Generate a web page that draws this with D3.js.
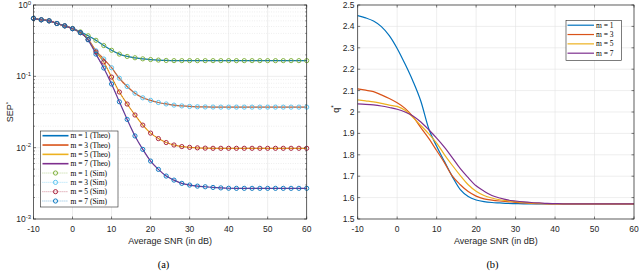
<!DOCTYPE html>
<html>
<head>
<meta charset="utf-8">
<script src="https://cdn.jsdelivr.net/npm/d3@7"></script>
<style>
  html, body { margin: 0; padding: 0; background: #fff; }
  svg { display: block; }
  .tick-label { font-family: "Liberation Sans", Arial, sans-serif; font-size: 8.5px; fill: #262626; }
  .axis-title { font-family: "Liberation Sans", Arial, sans-serif; font-size: 9px; fill: #262626; }
  .legend-text { font-family: "Liberation Serif", "DejaVu Serif", serif; font-size: 7.5px; fill: #000; }
  .caption { font-family: "Liberation Serif", "DejaVu Serif", serif; font-size: 10.5px; fill: #000; }
</style>
</head>
<body>
<svg id="chart" width="640" height="271"></svg>
<script>
// SNR grid shared by both panels (dB)
const snr = d3.range(-10, 61, 2);

// Panel (a): SEP* vs SNR, theory curves (sim markers coincide with them)
const sepM1 = [0.65, 0.62, 0.60, 0.55, 0.51, 0.47, 0.42, 0.37, 0.32, 0.27, 0.232, 0.205, 0.19, 0.182, 0.176, 0.172, 0.169, 0.167,
  0.166, 0.166, 0.166, 0.166, 0.166, 0.166, 0.166, 0.166, 0.166, 0.166, 0.166, 0.166, 0.166, 0.166, 0.166, 0.166, 0.166, 0.166];
const sepM3 = [0.65, 0.62, 0.60, 0.55, 0.51, 0.465, 0.41, 0.33, 0.228, 0.175, 0.132, 0.094, 0.072, 0.058, 0.050, 0.046, 0.043, 0.041,
  0.0395, 0.0385, 0.0378, 0.0374, 0.0372, 0.0371, 0.037, 0.037, 0.037, 0.037, 0.037, 0.037, 0.037, 0.037, 0.037, 0.037, 0.037, 0.037];
const sepM5 = [0.65, 0.62, 0.60, 0.55, 0.51, 0.465, 0.41, 0.328, 0.22, 0.159, 0.0977, 0.0603, 0.0409, 0.0287, 0.0207, 0.016, 0.0134, 0.0118,
  0.0109, 0.01036, 0.0101, 0.00994, 0.00985, 0.0098, 0.0098, 0.0098, 0.0098, 0.0098, 0.0098, 0.0098, 0.0098, 0.0098, 0.0098, 0.0098, 0.0098, 0.0098];
const sepM7 = [0.65, 0.62, 0.60, 0.55, 0.51, 0.465, 0.41, 0.325, 0.205, 0.131, 0.078, 0.044, 0.0249, 0.0146, 0.00946, 0.00649, 0.00496, 0.0040,
  0.00351, 0.00316, 0.00299, 0.00289, 0.00283, 0.00277, 0.00273, 0.0027, 0.00269, 0.00269, 0.00269, 0.00269, 0.00269, 0.00269, 0.00269, 0.00269, 0.00269, 0.00269];

// Panel (b): q* vs SNR
const qM1 = [2.45, 2.44, 2.425, 2.399, 2.357, 2.297, 2.224, 2.144, 2.05, 1.922, 1.84, 1.768, 1.697, 1.637, 1.605, 1.589, 1.581, 1.577,
  1.575, 1.573, 1.572, 1.571, 1.571, 1.571, 1.571, 1.571, 1.571, 1.571, 1.571, 1.571, 1.571, 1.571, 1.571, 1.571, 1.571, 1.571];
const qM3 = [2.108, 2.102, 2.095, 2.080, 2.063, 2.043, 2.017, 1.978, 1.927, 1.877, 1.82, 1.762, 1.70, 1.66, 1.628, 1.607, 1.594, 1.588,
  1.584, 1.581, 1.578, 1.575, 1.573, 1.572, 1.571, 1.571, 1.571, 1.571, 1.571, 1.571, 1.571, 1.571, 1.571, 1.571, 1.571, 1.571];
const qM5 = [2.057, 2.052, 2.047, 2.040, 2.032, 2.026, 2.008, 1.975, 1.937, 1.898, 1.855, 1.80, 1.75, 1.703, 1.66, 1.63, 1.61, 1.598,
  1.590, 1.585, 1.581, 1.578, 1.575, 1.573, 1.572, 1.571, 1.571, 1.571, 1.571, 1.571, 1.571, 1.571, 1.571, 1.571, 1.571, 1.571];
const qM7 = [2.038, 2.036, 2.033, 2.028, 2.021, 2.013, 2.0, 1.981, 1.953, 1.917, 1.878, 1.835, 1.786, 1.735, 1.693, 1.655, 1.63, 1.61,
  1.598, 1.589, 1.584, 1.58, 1.577, 1.575, 1.573, 1.572, 1.571, 1.571, 1.571, 1.571, 1.571, 1.571, 1.571, 1.571, 1.571, 1.571];

const mValues = [1, 3, 5, 7];
const xTicks = [-10, 0, 10, 20, 30, 40, 50, 60];
const qTicks = [1.5, 1.6, 1.7, 1.8, 1.9, 2, 2.1, 2.2, 2.3, 2.4, 2.5];
const sepTicks = [1e-3, 1e-2, 1e-1, 1];

const lineColors = ['#0072BD', '#D95319', '#EDB120', '#7E2F8E'];
const simColors = ['#77AC30', '#4DBEEE', '#A2142F', '#0072BD'];
const axisColor = '#262626';
const gridColor = '#e3e3e3';

const svg = d3.select('#chart');

// panel geometry
const left = { x0: 33.5, x1: 306.7, y0: 5, y1: 219 };
const right = { x0: 357.7, x1: 634, y0: 5, y1: 219 };

function drawFrame(g, box, x, yTicksPx, minorPx) {
  // ticks inward on all four sides
  const tl = 2.5;
  xTicks.forEach(t => {
    const px = x(t);
    g.append('line').attr('x1', px).attr('x2', px).attr('y1', box.y1).attr('y2', box.y1 - tl).attr('stroke', axisColor).attr('stroke-width', 0.6);
    g.append('line').attr('x1', px).attr('x2', px).attr('y1', box.y0).attr('y2', box.y0 + tl).attr('stroke', axisColor).attr('stroke-width', 0.6);
  });
  yTicksPx.forEach(py => {
    g.append('line').attr('x1', box.x0).attr('x2', box.x0 + tl).attr('y1', py).attr('y2', py).attr('stroke', axisColor).attr('stroke-width', 0.6);
    g.append('line').attr('x1', box.x1).attr('x2', box.x1 - tl).attr('y1', py).attr('y2', py).attr('stroke', axisColor).attr('stroke-width', 0.6);
  });
  (minorPx || []).forEach(py => {
    g.append('line').attr('x1', box.x0).attr('x2', box.x0 + 1.5).attr('y1', py).attr('y2', py).attr('stroke', axisColor).attr('stroke-width', 0.5);
    g.append('line').attr('x1', box.x1).attr('x2', box.x1 - 1.5).attr('y1', py).attr('y2', py).attr('stroke', axisColor).attr('stroke-width', 0.5);
  });
  g.append('rect')
    .attr('x', box.x0).attr('y', box.y0)
    .attr('width', box.x1 - box.x0).attr('height', box.y1 - box.y0)
    .attr('fill', 'none').attr('stroke', axisColor).attr('stroke-width', 0.7);

  g.selectAll('text.xt').data(xTicks).join('text')
    .attr('class', 'tick-label')
    .attr('x', d => x(d)).attr('y', 232)
    .attr('text-anchor', 'middle')
    .text(d => d);

  g.append('text').attr('class', 'axis-title')
    .attr('x', (box.x0 + box.x1) / 2).attr('y', 243.5)
    .attr('text-anchor', 'middle')
    .text('Average SNR (in dB)');
}

// ===== Panel (a) =====
const xA = d3.scaleLinear().domain([-10, 60]).range([left.x0, left.x1]);
const yA = d3.scaleLog().domain([1e-3, 1]).range([left.y1, left.y0]);
const gA = svg.append('g');

const minorA = [];
[1e-3, 1e-2, 1e-1].forEach(dec => {
  for (let k = 2; k <= 9; k++) minorA.push(yA(dec * k));
});

// grids
gA.selectAll('line.minor').data(minorA).join('line')
  .attr('x1', left.x0).attr('x2', left.x1)
  .attr('y1', d => d).attr('y2', d => d)
  .attr('stroke', '#d4d4d4').attr('stroke-width', 0.5).attr('stroke-dasharray', '0.8,1.6');
gA.selectAll('line.gx').data(xTicks).join('line')
  .attr('x1', d => xA(d)).attr('x2', d => xA(d))
  .attr('y1', left.y0).attr('y2', left.y1)
  .attr('stroke', gridColor).attr('stroke-width', 0.6);
gA.selectAll('line.gy').data(sepTicks).join('line')
  .attr('x1', left.x0).attr('x2', left.x1)
  .attr('y1', d => yA(d)).attr('y2', d => yA(d))
  .attr('stroke', gridColor).attr('stroke-width', 0.6);

const sepSeries = [sepM1, sepM3, sepM5, sepM7];
const lineA = d3.line().x(d => xA(d[0])).y(d => yA(d[1])).curve(d3.curveMonotoneX);

sepSeries.forEach((vals, i) => {
  gA.append('path')
    .attr('d', lineA(snr.map((s, j) => [s, vals[j]])))
    .attr('fill', 'none').attr('stroke', lineColors[i]).attr('stroke-width', 1.2);
});
sepSeries.forEach((vals, i) => {
  const pts = snr.map((s, j) => [s, vals[j]]);
  gA.append('path')
    .attr('d', d3.line().x(d => xA(d[0])).y(d => yA(d[1]))(pts))
    .attr('fill', 'none').attr('stroke', simColors[i]).attr('stroke-width', 0.6).attr('stroke-dasharray', '0.8,1.2');
  gA.selectAll(null).data(pts).join('circle')
    .attr('cx', d => xA(d[0])).attr('cy', d => yA(d[1])).attr('r', 2.1)
    .attr('fill', 'none').attr('stroke', simColors[i]).attr('stroke-width', 0.9);
});

drawFrame(gA, left, xA, sepTicks.map(d => yA(d)), minorA);

// y tick labels 10^k
sepTicks.forEach(t => {
  const e = Math.round(Math.log10(t));
  const txt = gA.append('text').attr('class', 'tick-label')
    .attr('x', 31).attr('y', yA(t) + 3).attr('text-anchor', 'end');
  txt.append('tspan').text('10');
  txt.append('tspan').attr('dy', -3.5).attr('font-size', '6px').text(e);
});

gA.append('text').attr('class', 'axis-title')
  .attr('transform', `translate(12.5,${(left.y0 + left.y1) / 2}) rotate(-90)`)
  .attr('text-anchor', 'middle')
  .call(t => {
    t.append('tspan').text('SEP');
    t.append('tspan').attr('dy', -3).attr('font-size', '6px').text('*');
  });

// legend (a)
const legA = gA.append('g').attr('transform', 'translate(40.5,131)');
legA.append('rect').attr('width', 77.5).attr('height', 76)
  .attr('fill', '#fff').attr('stroke', axisColor).attr('stroke-width', 0.6);
const legRowsA = [];
mValues.forEach((m, i) => legRowsA.push({ label: `m = ${m} (Theo)`, color: lineColors[i], sim: false }));
mValues.forEach((m, i) => legRowsA.push({ label: `m = ${m} (Sim)`, color: simColors[i], sim: true }));
legRowsA.forEach((r, i) => {
  const yy = 4.7 + i * 9.33;
  if (r.sim) {
    legA.append('line').attr('x1', 2).attr('x2', 28).attr('y1', yy).attr('y2', yy)
      .attr('stroke', r.color).attr('stroke-width', 0.6).attr('stroke-dasharray', '0.8,1.2');
    legA.append('circle').attr('cx', 15).attr('cy', yy).attr('r', 2.1)
      .attr('fill', 'none').attr('stroke', r.color).attr('stroke-width', 0.9);
  } else {
    legA.append('line').attr('x1', 2).attr('x2', 28).attr('y1', yy).attr('y2', yy)
      .attr('stroke', r.color).attr('stroke-width', 1.6);
  }
  legA.append('text').attr('class', 'legend-text').attr('x', 30).attr('y', yy + 2.6).text(r.label);
});

svg.append('text').attr('class', 'caption').attr('x', 163.5).attr('y', 268).attr('text-anchor', 'middle').text('(a)');

// ===== Panel (b) =====
const xB = d3.scaleLinear().domain([-10, 60]).range([right.x0, right.x1]);
const yB = d3.scaleLinear().domain([1.5, 2.5]).range([right.y1, right.y0]);
const gB = svg.append('g');

gB.selectAll('line.gx').data(xTicks).join('line')
  .attr('x1', d => xB(d)).attr('x2', d => xB(d))
  .attr('y1', right.y0).attr('y2', right.y1)
  .attr('stroke', gridColor).attr('stroke-width', 0.6);
gB.selectAll('line.gy').data(qTicks).join('line')
  .attr('x1', right.x0).attr('x2', right.x1)
  .attr('y1', d => yB(d)).attr('y2', d => yB(d))
  .attr('stroke', gridColor).attr('stroke-width', 0.6);

const qSeries = [qM1, qM3, qM5, qM7];
const lineB = d3.line().x(d => xB(d[0])).y(d => yB(d[1])).curve(d3.curveMonotoneX);
qSeries.forEach((vals, i) => {
  gB.append('path')
    .attr('d', lineB(snr.map((s, j) => [s, vals[j]])))
    .attr('fill', 'none').attr('stroke', lineColors[i]).attr('stroke-width', 1.2);
});

drawFrame(gB, right, xB, qTicks.map(d => yB(d)));

gB.selectAll('text.yt').data(qTicks).join('text')
  .attr('class', 'tick-label')
  .attr('x', 354.5).attr('y', d => yB(d) + 3)
  .attr('text-anchor', 'end')
  .text(d => d3.format('~g')(d));

gB.append('text').attr('class', 'axis-title')
  .attr('transform', `translate(338.5,${(right.y0 + right.y1) / 2 - 3}) rotate(-90)`)
  .attr('text-anchor', 'middle')
  .call(t => {
    t.append('tspan').text('q');
    t.append('tspan').attr('dy', -3).attr('font-size', '6.5px').text('*');
  });

// legend (b)
const legB = gB.append('g').attr('transform', 'translate(566,20.5)');
legB.append('rect').attr('width', 55.5).attr('height', 40)
  .attr('fill', '#fff').attr('stroke', axisColor).attr('stroke-width', 0.6);
mValues.forEach((m, i) => {
  const yy = 4.7 + i * 9.33;
  legB.append('line').attr('x1', 1.5).attr('x2', 28).attr('y1', yy).attr('y2', yy)
    .attr('stroke', lineColors[i]).attr('stroke-width', 1.2);
  legB.append('text').attr('class', 'legend-text').attr('x', 30).attr('y', yy + 2.6).text(`m = ${m}`);
});

svg.append('text').attr('class', 'caption').attr('x', 492.5).attr('y', 268).attr('text-anchor', 'middle').text('(b)');
</script>
</body>
</html>
